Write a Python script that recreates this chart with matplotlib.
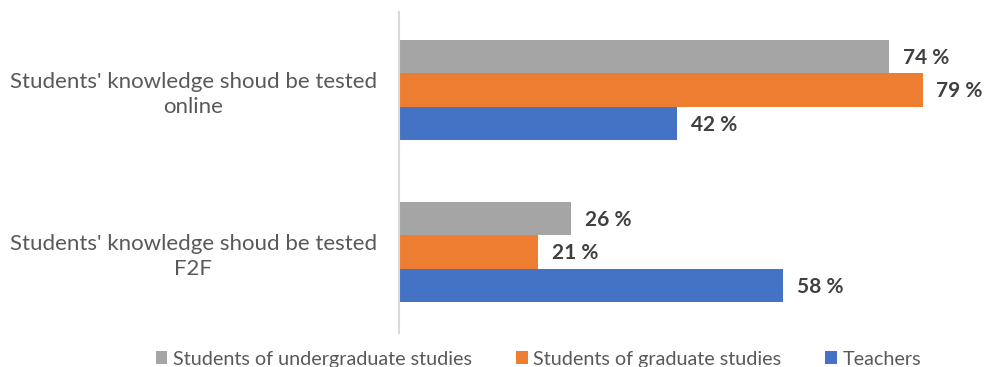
import matplotlib
matplotlib.use("Agg")
import matplotlib.pyplot as plt
import numpy as np

categories = ["Students' knowledge shoud be tested\nonline",
              "Students' knowledge shoud be tested\nF2F"]
series_names = ["Students of undergraduate studies", "Students of graduate studies", "Teachers"]
undergrad = [74, 26]
graduate = [79, 21]
teachers = [42, 58]
colors = ["#A5A5A5", "#ED7D31", "#4472C4"]

plt.rcParams['font.family'] = ['Lato', 'DejaVu Sans']

fig = plt.figure(figsize=(9.88, 3.67), dpi=100)
ax = fig.add_axes([0.404, 0.093, 0.57, 0.874])

y = np.arange(len(categories))
h = 0.207
values = [undergrad, graduate, teachers]
for i, (vals, name, c) in enumerate(zip(values, series_names, colors)):
    pos = y + (i - 1) * h
    bars = ax.barh(pos, vals, height=h, color=c, label=name)
    for b, v in zip(bars, vals):
        ax.text(b.get_width() + 2.0, b.get_y() + b.get_height() / 2 + 0.01, f"{v} %",
                va='center', ha='left', fontsize=15, fontweight='bold', color='#404040')

ax.set_ylim(1.5, -0.48)
ax.set_xlim(0, 85)
ax.set_yticks(y)
ax.set_yticklabels(categories, fontsize=16, color='#595959', multialignment='center',
                   linespacing=1.35)
ax.tick_params(axis='y', length=0, pad=16)
ax.set_xticks([])
for s in ['top', 'right', 'bottom']:
    ax.spines[s].set_visible(False)
ax.spines['left'].set_color('#D9D9D9')
ax.spines['left'].set_linewidth(1.5)

leg = fig.legend(loc='lower center', bbox_to_anchor=(0.545, -0.05), ncol=3, frameon=False,
                 fontsize=14.2, handlelength=0.6, handleheight=0.6, handletextpad=0.3,
                 columnspacing=2.2, labelcolor='#595959')

fig.savefig("out.png", dpi=100)
